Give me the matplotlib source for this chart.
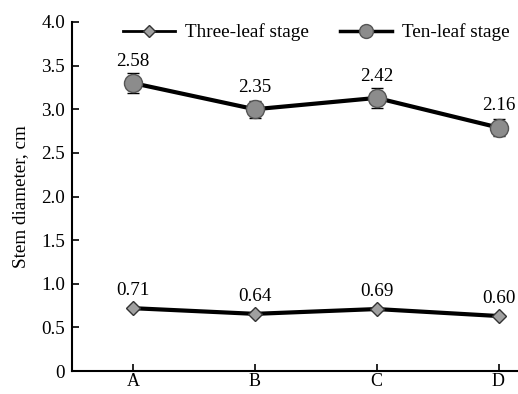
import matplotlib
matplotlib.use("Agg")
import matplotlib.pyplot as plt
from matplotlib.lines import Line2D
import numpy as np

categories = ["A", "B", "C", "D"]
three_leaf = [0.72, 0.655, 0.71, 0.63]
three_err = [0.02, 0.02, 0.02, 0.02]
three_labels = ["0.71", "0.64", "0.69", "0.60"]
ten_leaf = [3.30, 3.00, 3.13, 2.79]
ten_err = [0.11, 0.10, 0.11, 0.10]
ten_labels = ["2.58", "2.35", "2.42", "2.16"]
yticks = [0, 0.5, 1.0, 1.5, 2.0, 2.5, 3.0, 3.5, 4.0]
ytick_labels = ["0", "0.5", "1.0", "1.5", "2.0", "2.5", "3.0", "3.5", "4.0"]

FS = 13.8
plt.rcParams['font.family'] = ['Liberation Serif', 'DejaVu Serif']
fig = plt.figure(figsize=(5.18, 3.94), dpi=100)
ax = fig.add_axes([72/518, 23/394, 446/518, 349/394])
x = np.arange(len(categories))

ax.errorbar(x, three_leaf, yerr=three_err, color='black', lw=3, marker='D',
            markersize=7, markerfacecolor='#a0a0a0', markeredgecolor='#333333',
            markeredgewidth=1, capsize=0, elinewidth=1)
ax.errorbar(x, ten_leaf, yerr=ten_err, color='black', lw=3, marker='o',
            markersize=13, markerfacecolor='#8c8c8c', markeredgecolor='#555555',
            markeredgewidth=1, capsize=4, elinewidth=1.5, capthick=1.5)

for xi, v, t in zip(x, three_leaf, three_labels):
    ax.annotate(t, (xi, v), xytext=(0, 6.5), textcoords='offset points',
                ha='center', va='bottom', fontsize=FS)
for xi, v, t in zip(x, ten_leaf, ten_labels):
    ax.annotate(t, (xi, v), xytext=(0, 9.5), textcoords='offset points',
                ha='center', va='bottom', fontsize=FS)

ax.set_xlim(-0.5, 3.16)
ax.set_ylim(0, 4.0)
ax.set_yticks(yticks)
ax.set_yticklabels(ytick_labels, fontsize=FS)
ax.set_xticks(x)
ax.set_xticklabels(categories, fontsize=13)
ax.tick_params(direction='in', length=5, width=1.2)
ax.tick_params(axis='y', pad=5)
ax.tick_params(axis='x', pad=1.5)
ax.spines['top'].set_visible(False)
ax.spines['right'].set_visible(False)
ax.spines['left'].set_linewidth(1.5)
ax.spines['bottom'].set_linewidth(1.5)
ax.set_ylabel("Stem diameter, cm", fontsize=FS, labelpad=9)

handles = [
    Line2D([], [], color='black', lw=2, marker='D', markersize=6,
           markerfacecolor='#a0a0a0', markeredgecolor='#333333'),
    Line2D([], [], color='black', lw=2.5, marker='o', markersize=10,
           markerfacecolor='#8c8c8c', markeredgecolor='#555555'),
]
leg = ax.legend(handles, ['Three-leaf stage', 'Ten-leaf stage'],
                loc='upper center', ncol=2, frameon=False, fontsize=FS,
                bbox_to_anchor=(0.548, 1.045), handlelength=2.7, columnspacing=1.6,
                handletextpad=0.55)

fig.savefig("out.png", dpi=100)
